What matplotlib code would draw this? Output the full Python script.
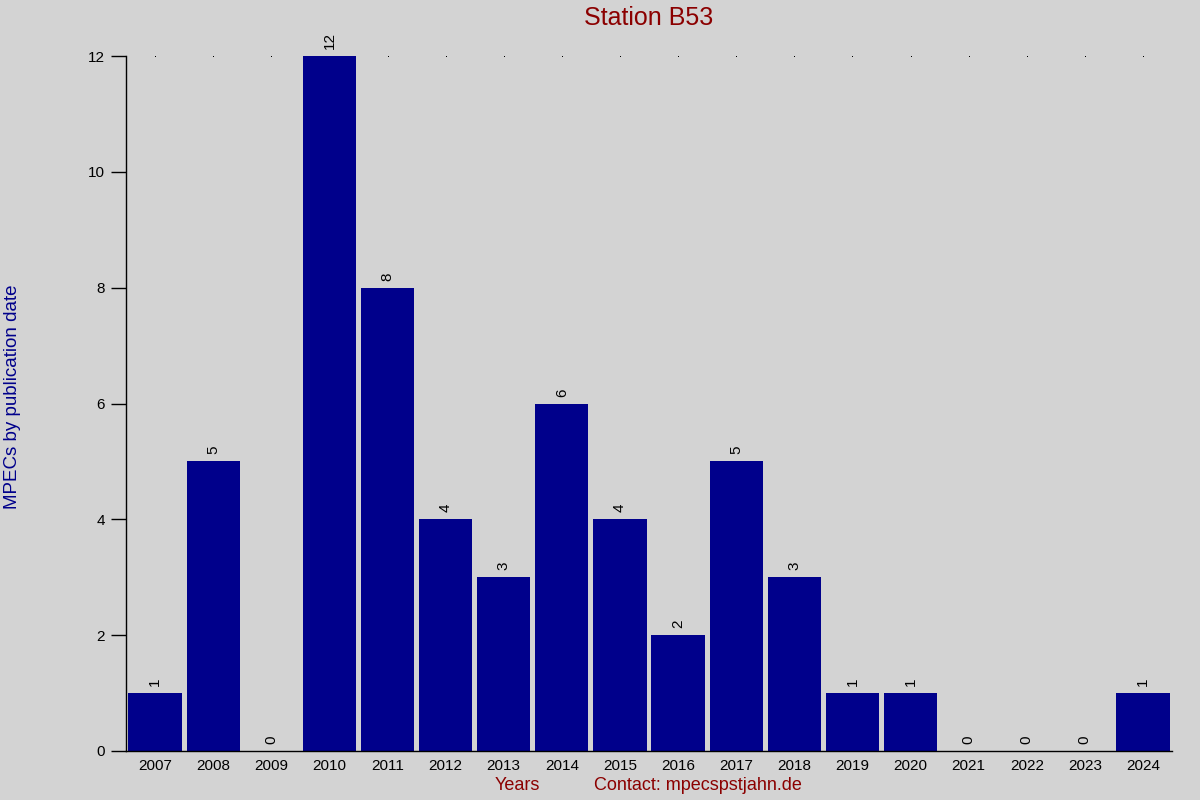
import matplotlib
matplotlib.use("Agg")
import matplotlib.pyplot as plt
import numpy as np

years = ["2007", "2008", "2009", "2010", "2011", "2012", "2013", "2014", "2015",
         "2016", "2017", "2018", "2019", "2020", "2021", "2022", "2023", "2024"]
counts = [1, 5, 0, 12, 8, 4, 3, 6, 4, 2, 5, 3, 1, 1, 0, 0, 0, 1]
yticks = [0, 2, 4, 6, 8, 10, 12]

plt.rcParams['font.family'] = ['Liberation Sans', 'DejaVu Sans']

bg = "#d3d3d3"
fig = plt.figure(figsize=(12, 8), dpi=100, facecolor=bg)
ax = fig.add_axes([0.105, 0.06125, 0.8717, 0.86875], facecolor=bg)

x = np.arange(len(years))
ax.bar(x, counts, width=0.915, color="#00008b", zorder=2)
ax.plot(x, [12] * len(x), ls="none", marker="s", ms=0.7, mew=0,
        color="black", zorder=1)

for xi, c in zip(x, counts):
    ax.text(xi, c + 0.12, str(c), rotation=90, ha="center", va="bottom",
            fontsize=11, color="black")

ax.set_xlim(-0.5, 17.5)
ax.set_ylim(0, 12)
ax.set_xticks(x)
ax.set_xticklabels(years, fontsize=11)
ax.set_yticks(yticks)
ax.set_yticklabels([str(t) for t in yticks], fontsize=11)
ax.tick_params(axis="x", length=0, pad=6)
ax.tick_params(axis="y", length=11, width=1, direction="out", pad=4)
for s in ["top", "right"]:
    ax.spines[s].set_visible(False)
for s in ["left", "bottom"]:
    ax.spines[s].set_linewidth(1)
    ax.spines[s].set_color("black")

fig.text(0.5408, 0.978, "Station B53", ha="center", va="center",
         fontsize=18, color="#8b0000")
fig.text(0.431, 0.0175, "Years", ha="center", va="center",
         fontsize=13, color="#8b0000")
fig.text(0.5817, 0.0175, "Contact: mpecspstjahn.de", ha="center", va="center",
         fontsize=13, color="#8b0000")
fig.text(0.0105, 0.504, "MPECs by publication date", ha="center", va="center",
         rotation=90, fontsize=13.5, color="#00008b")

fig.savefig("out.png", dpi=100, facecolor=bg)
